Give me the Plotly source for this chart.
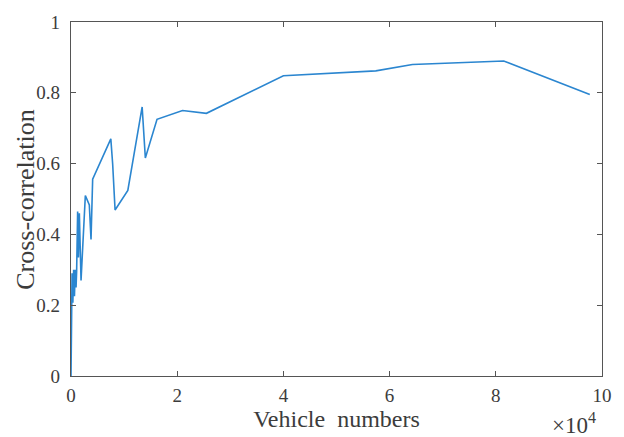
import plotly.graph_objects as go

vehicle_numbers = [0, 100, 200, 350, 500, 650, 800, 950, 1060, 1250, 1400, 1570, 1750, 1890,
                   2700, 3450, 3770, 4080, 7500, 7850, 8300, 10700, 13400, 14000, 16200,
                   21000, 25500, 40000, 57400, 64300, 81500, 97700]
cross_corr = [0.0, 0.13, 0.29, 0.207, 0.30, 0.225, 0.30, 0.25, 0.295, 0.465, 0.335, 0.46, 0.335, 0.27,
              0.51, 0.483, 0.386, 0.556, 0.67, 0.598, 0.469, 0.524, 0.76, 0.616, 0.725,
              0.75, 0.742, 0.848, 0.862, 0.88, 0.89, 0.795]

x_tickvals = [0, 20000, 40000, 60000, 80000, 100000]
x_ticktext = ["0", "2", "4", "6", "8", "10"]
y_tickvals = [0, 0.2, 0.4, 0.6, 0.8, 1]
y_ticktext = ["0", "0.2", "0.4", "0.6", "0.8", "1"]

font_family = "Liberation Serif, Times New Roman, serif"
axis_color = "#555555"
text_color = "#3c3c3c"

fig = go.Figure()
fig.add_trace(go.Scatter(x=vehicle_numbers, y=cross_corr, mode="lines",
                         line=dict(color="#2b86d0", width=1.6), showlegend=False))

fig.update_layout(
    width=624, height=437,
    margin=dict(l=71, r=22, t=16, b=61),
    paper_bgcolor="white", plot_bgcolor="white",
    font=dict(family=font_family, size=19, color=text_color),
    xaxis=dict(range=[0, 100000], tickvals=x_tickvals, ticktext=x_ticktext,
               showgrid=False, zeroline=False, showline=True, linecolor=axis_color, linewidth=1.2,
               mirror="ticks", ticks="inside", ticklen=5, tickcolor=axis_color,
               ticklabelstandoff=2,
               title=dict(text="Vehicle  numbers", font=dict(size=24, family=font_family, color=text_color), standoff=1)),
    yaxis=dict(range=[0, 1], tickvals=y_tickvals, ticktext=y_ticktext,
               showgrid=False, zeroline=False, showline=True, linecolor=axis_color, linewidth=1.2,
               mirror="ticks", ticks="inside", ticklen=5, tickcolor=axis_color,
               ticklabelstandoff=6),
)

fig.add_annotation(x=-0.087, y=0.5, xref="paper", yref="paper", xanchor="center", yanchor="middle",
                   text="Cross-correlation", textangle=-90, showarrow=False,
                   font=dict(size=26, family=font_family, color=text_color))

fig.add_annotation(x=0.993, y=-0.135, xref="paper", yref="paper", xanchor="right", yanchor="middle",
                   text="×10<sup>4</sup>", showarrow=False,
                   font=dict(size=23, family=font_family, color=text_color))

fig.write_html("out.html")
